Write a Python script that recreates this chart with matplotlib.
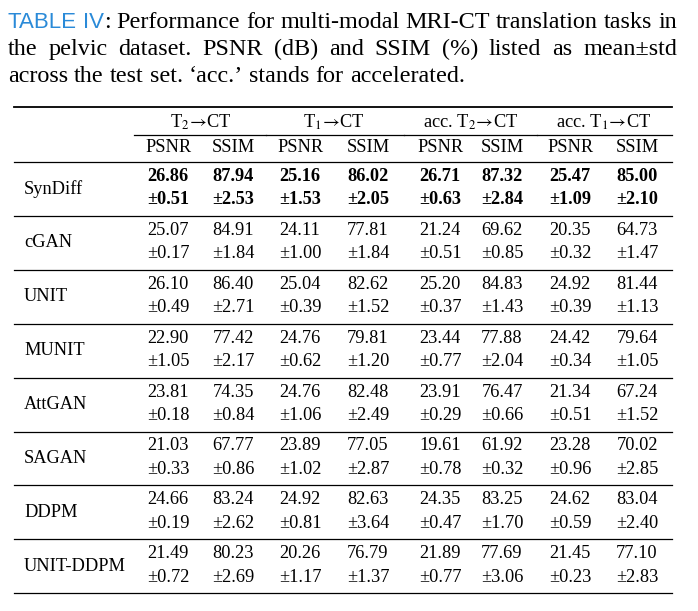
import matplotlib
matplotlib.use("Agg")
import matplotlib.pyplot as plt

plt.rcParams['font.family'] = ['Liberation Serif', 'DejaVu Serif']
plt.rcParams['mathtext.fontset'] = 'stix'

# table content
methods = ['SynDiff', 'cGAN', 'UNIT', 'MUNIT', 'AttGAN', 'SAGAN', 'DDPM', 'UNIT-DDPM']
tasks = [r'T$_2\!\rightarrow\!$CT', r'T$_1\!\rightarrow\!$CT',
         r'acc. T$_2\!\rightarrow\!$CT', r'acc. T$_1\!\rightarrow\!$CT']
metrics = ['PSNR', 'SSIM']
best_method = 'SynDiff'

means = [
    [26.86, 87.94, 25.16, 86.02, 26.71, 87.32, 25.47, 85.00],
    [25.07, 84.91, 24.11, 77.81, 21.24, 69.62, 20.35, 64.73],
    [26.10, 86.40, 25.04, 82.62, 25.20, 84.83, 24.92, 81.44],
    [22.90, 77.42, 24.76, 79.81, 23.44, 77.88, 24.42, 79.64],
    [23.81, 74.35, 24.76, 82.48, 23.91, 76.47, 21.34, 67.24],
    [21.03, 67.77, 23.89, 77.05, 19.61, 61.92, 23.28, 70.02],
    [24.66, 83.24, 24.92, 82.63, 24.35, 83.25, 24.62, 83.04],
    [21.49, 80.23, 20.26, 76.79, 21.89, 77.69, 21.45, 77.10],
]
stds = [
    [0.51, 2.53, 1.53, 2.05, 0.63, 2.84, 1.09, 2.10],
    [0.17, 1.84, 1.00, 1.84, 0.51, 0.85, 0.32, 1.47],
    [0.49, 2.71, 0.39, 1.52, 0.37, 1.43, 0.39, 1.13],
    [1.05, 2.17, 0.62, 1.20, 0.77, 2.04, 0.34, 1.05],
    [0.18, 0.84, 1.06, 2.49, 0.29, 0.66, 0.51, 1.52],
    [0.33, 0.86, 1.02, 2.87, 0.78, 0.32, 0.96, 2.85],
    [0.19, 2.62, 0.81, 3.64, 0.47, 1.70, 0.59, 2.40],
    [0.72, 2.69, 1.17, 1.37, 0.77, 3.06, 0.23, 2.83],
]

caption_label = ['TABLE', 'IV']
caption_lines = [
    'Performance for multi-modal MRI-CT translation tasks in',
    'the pelvic dataset. PSNR (dB) and SSIM (%) listed as mean±std',
    'across the test set. ‘acc.’ stands for accelerated.',
]

W, H = 698, 611
fig = plt.figure(figsize=(W / 100, H / 100), dpi=100)
ax = fig.add_axes([0, 0, 1, 1])
ax.set_xlim(0, W)
ax.set_ylim(H, 0)
ax.axis('off')
renderer = fig.canvas.get_renderer()

CAP_FS = 17.4
TAB_FS = 13.2
BLUE = '#2a8ad8'


def width(t):
    return t.get_window_extent(renderer).width


def draw_line(words, y, x0, x1, justify):
    # words: list of lists of (text, kwargs) segments
    objs = []
    for word in words:
        segs = [ax.text(0, y, s, va='baseline', ha='left', **kw) for s, kw in word]
        objs.append(segs)
    widths = [sum(width(t) for t in segs) for segs in objs]
    if justify and len(objs) > 1:
        gap = (x1 - x0 - sum(widths)) / (len(objs) - 1)
    else:
        gap = CAP_FS * 100 / 72 * 0.25
    x = x0
    for segs, w in zip(objs, widths):
        for t in segs:
            t.set_x(x)
            x += width(t)
        x += gap


serif = dict(fontsize=CAP_FS, color='black')
sans = dict(fontsize=CAP_FS * 0.92, color=BLUE, family='Liberation Sans')
cap_x0, cap_x1 = 8, 677
baselines = [28, 55, 82]

first = [[(caption_label[0], sans)], [(caption_label[1], sans), (':', serif)]]
first += [[(w, serif)] for w in caption_lines[0].split()]
draw_line(first, baselines[0], cap_x0, cap_x1, True)
draw_line([[(w, serif)] for w in caption_lines[1].split()], baselines[1], cap_x0, cap_x1, True)
draw_line([[(w, serif)] for w in caption_lines[2].split()], baselines[2], cap_x0, cap_x1, False)

# table geometry
left, right = 14, 672
col_x = [168, 233, 300, 368, 440, 502, 570, 637]
bounds = [134, 266, 404, 537, 672]
top_rule = 107
head1_y, cmid_y, head2_y = 122, 135, 148
body_top, block_h = 162, 53.9

ax.plot([left, right], [top_rule, top_rule], color='black', lw=1.3)
for i, task in enumerate(tasks):
    ax.text((col_x[2 * i] + col_x[2 * i + 1]) / 2, head1_y, task,
            ha='center', va='center', fontsize=TAB_FS)
    ax.plot([bounds[i], bounds[i + 1]], [cmid_y, cmid_y], color='black', lw=0.9)
for j, x in enumerate(col_x):
    ax.text(x, head2_y, metrics[j % 2], ha='center', va='center', fontsize=TAB_FS)
ax.plot([left, right], [body_top, body_top], color='black', lw=0.9)

for r, name in enumerate(methods):
    y0 = body_top + r * block_h
    weight = 'bold' if name == best_method else 'normal'
    ax.text(24, y0 + block_h / 2, name, ha='left', va='center', fontsize=TAB_FS)
    for j, x in enumerate(col_x):
        ax.text(x, y0 + 14.5, f'{means[r][j]:.2f}', ha='center', va='center',
                fontsize=TAB_FS, fontweight=weight)
        ax.text(x, y0 + 38, f'±{stds[r][j]:.2f}', ha='center', va='center',
                fontsize=TAB_FS, fontweight=weight)
    yb = y0 + block_h
    ax.plot([left, right], [yb, yb], color='black', lw=0.9)

fig.savefig('out.png', dpi=100)
